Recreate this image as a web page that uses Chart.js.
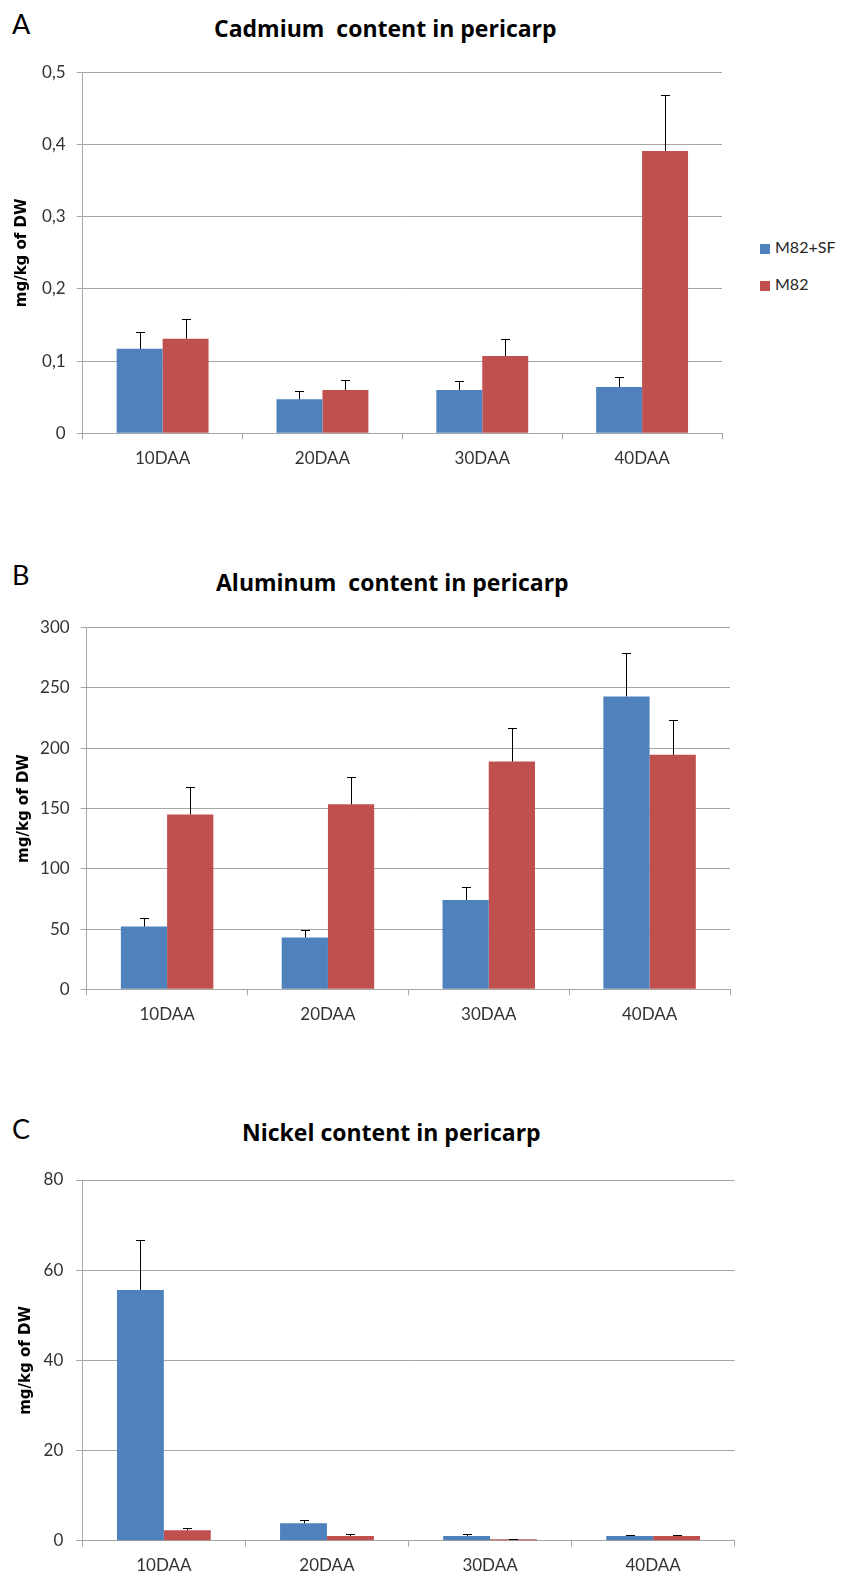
<!DOCTYPE html>
<html><head><meta charset="utf-8">
<script src="https://cdn.jsdelivr.net/npm/chart.js@4.4.0/dist/chart.umd.min.js"></script>
<style>
html,body{margin:0;padding:0;background:#fff;}
body{width:841px;height:1575px;overflow:hidden;position:relative;}
canvas{position:absolute;left:0;}
.t{position:absolute;white-space:pre;font-family:'Open Sans',sans-serif;font-weight:700;font-size:23px;color:#000;line-height:1;transform:translateY(-50%);}
.p{position:absolute;font-family:Lato,sans-serif;font-size:27px;color:#000;line-height:1;transform:translateY(-50%);}
.lg{position:absolute;font-family:Lato,sans-serif;font-size:16px;color:#262626;line-height:1;transform:translateY(-50%);white-space:nowrap;}
.sw{display:inline-block;width:10px;height:10px;margin-right:5px;vertical-align:-1px;}
</style>
</head><body>
<div class="p" style="left:12px;top:23px;">A</div>
<div class="t" style="left:214px;top:28px;">Cadmium  content in pericarp</div>
<div class="lg" style="left:760px;top:247px;"><span class="sw" style="background:#4F81BD"></span>M82+SF</div>
<div class="lg" style="left:760px;top:284px;"><span class="sw" style="background:#C0504D"></span>M82</div>
<div class="p" style="left:12px;top:574px;">B</div>
<div class="t" style="left:216px;top:582px;">Aluminum  content in pericarp</div>
<div class="p" style="left:12px;top:1128px;">C</div>
<div class="t" style="left:242px;top:1132px;">Nickel content in pericarp</div>
<canvas id="cA" width="841" height="480" style="top:0px;width:841px;height:480px"></canvas>
<canvas id="cB" width="841" height="520" style="top:520px;width:841px;height:520px"></canvas>
<canvas id="cC" width="841" height="525" style="top:1050px;width:841px;height:525px"></canvas>
<script>
const categories = ['10DAA','20DAA','30DAA','40DAA'];
const seriesNames = ['M82+SF','M82'];
const seriesColors = ['#4F81BD','#C0504D'];

const cdSF = [0.117, 0.047, 0.060, 0.064];
const cdSFErr = [0.023, 0.011, 0.012, 0.014];
const cdM82 = [0.131, 0.060, 0.107, 0.391];
const cdM82Err = [0.027, 0.014, 0.024, 0.077];

const alSF = [52, 43, 74, 243];
const alSFErr = [7, 6, 11, 36];
const alM82 = [145, 153.5, 189, 194.5];
const alM82Err = [23, 23, 28, 29];

const niSF = [55.6, 3.85, 1.05, 1.05];
const niSFErr = [11.2, 0.65, 0.5, 0.28];
const niM82 = [2.3, 1.05, 0.32, 1.05];
const niM82Err = [0.5, 0.5, 0.12, 0.28];

const cdTicks = ['0','0,1','0,2','0,3','0,4','0,5'];
const alTicks = ['0','50','100','150','200','250','300'];
const niTicks = ['0','20','40','60','80'];

const yTitle = 'mg/kg of DW';

const errPlugin = {
  id: 'errbars',
  afterDatasetsDraw(chart) {
    const ctx = chart.ctx, ys = chart.scales.y;
    ctx.save();
    ctx.strokeStyle = '#000';
    ctx.lineWidth = 1;
    chart.data.datasets.forEach((ds, i) => {
      const meta = chart.getDatasetMeta(i);
      meta.data.forEach((bar, j) => {
        const x = Math.round(bar.x) + 0.5;
        const top = Math.round(ys.getPixelForValue(ds.data[j] + ds.err[j])) + 0.5;
        ctx.beginPath();
        ctx.moveTo(x, bar.y);
        ctx.lineTo(x, top);
        ctx.moveTo(x - 4.5, top);
        ctx.lineTo(x + 4.5, top);
        ctx.stroke();
      });
    });
    ctx.restore();
  }
};

const gridColor = '#a6a6a6';
const tickFont = {family: 'Lato', size: 17};
const tickColor = '#333333';

function makeChart(id, o) {
  return new Chart(document.getElementById(id), {
    type: 'bar',
    data: {
      labels: categories,
      datasets: [
        {label: seriesNames[0], data: o.sf, err: o.sfErr, backgroundColor: seriesColors[0], borderWidth: 0},
        {label: seriesNames[1], data: o.m82, err: o.m82Err, backgroundColor: seriesColors[1], borderWidth: 0}
      ]
    },
    options: {
      responsive: false,
      devicePixelRatio: 1,
      animation: false,
      categoryPercentage: 0.575,
      barPercentage: 1,
      layout: {padding: {left: 0, right: 841 - o.right, top: o.top, bottom: 0}},
      plugins: {legend: {display: false}, tooltip: {enabled: false}, title: {display: false}},
      scales: {
        x: {
          grid: {display: true, drawOnChartArea: false, drawTicks: true, tickLength: 6, color: gridColor, offset: true},
          border: {display: true, color: gridColor, width: 1},
          ticks: {font: tickFont, color: tickColor, padding: 9, maxRotation: 0},
          afterFit: s => { s.height = o.height - o.bottom; }
        },
        y: {
          min: 0, max: o.max,
          ticks: {stepSize: o.step, font: tickFont, color: tickColor, padding: o.tickPad,
                  callback: (v, i) => o.ticks[i]},
          grid: {color: gridColor, tickLength: 6, drawTicks: true, lineWidth: 1},
          border: {display: true, color: gridColor, width: 1},
          title: {display: true, text: yTitle, color: '#000',
                  font: {family: 'DejaVu Sans', weight: 'bold', size: 15},
                  padding: {top: o.titlePad, bottom: 0}},
          afterFit: s => { s.width = o.left; }
        }
      }
    },
    plugins: [errPlugin]
  });
}

makeChart('cA', {sf: cdSF, sfErr: cdSFErr, m82: cdM82, m82Err: cdM82Err,
  max: 0.5, step: 0.1, ticks: cdTicks, height: 480,
  top: 72.3, bottom: 433.3, left: 82.7, right: 722, tickPad: 11, titlePad: 13});
makeChart('cB', {sf: alSF, sfErr: alSFErr, m82: alM82, m82Err: alM82Err,
  max: 300, step: 50, ticks: alTicks, height: 520,
  top: 107.7, bottom: 469.3, left: 86.7, right: 730, tickPad: 11, titlePad: 15});
makeChart('cC', {sf: niSF, sfErr: niSFErr, m82: niM82, m82Err: niM82Err,
  max: 80, step: 20, ticks: niTicks, height: 525,
  top: 130, bottom: 490.7, left: 82.3, right: 734.7, tickPad: 13, titlePad: 17});
</script>
</body></html>
